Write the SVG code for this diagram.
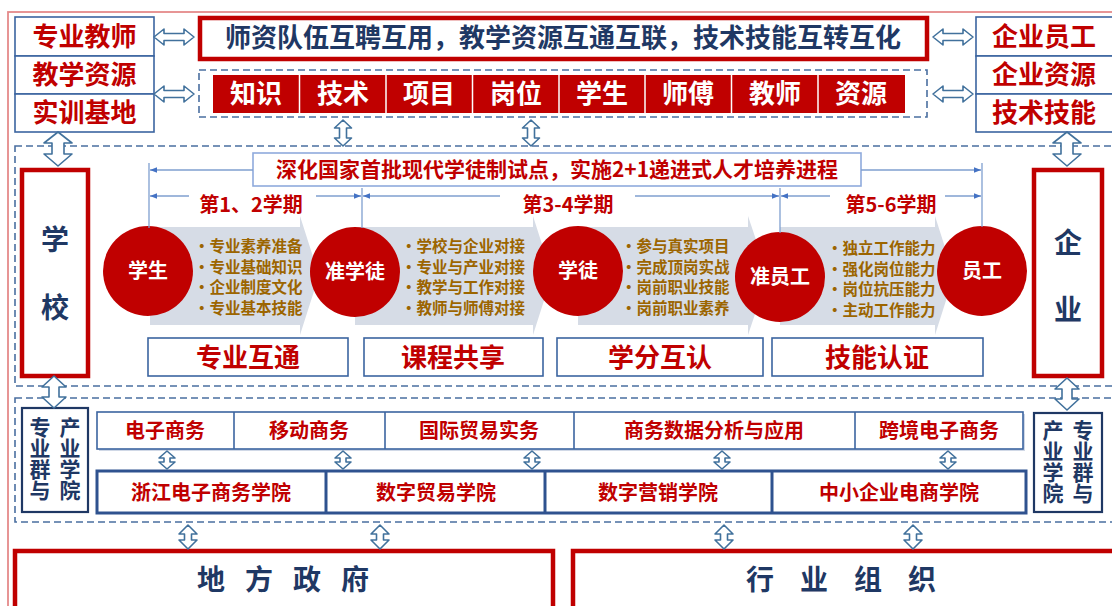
<svg xmlns="http://www.w3.org/2000/svg" width="1112" height="606" viewBox="0 0 1112 606">
<defs>
<style>
text{font-family:"Noto Sans CJK SC","Noto Sans",sans-serif;font-weight:bold}
.red{fill:#c00000}
.navy{fill:#1f3864}
.gold{fill:#9c6500;font-size:15.5px}
.wt{fill:#fff}
.bx{fill:#fff;stroke:#3b64a0;stroke-width:1.6}
.rbx{fill:#fff;stroke:#c00000;stroke-width:4.5}
.dash{fill:none;stroke:#4a6fa0;stroke-width:1.6;stroke-dasharray:7 4}
.arr{fill:#fff;stroke:#41719c;stroke-width:1.6;stroke-linejoin:round}
.chev{fill:#d6dce6}
.dim{stroke:#7f9fcf;stroke-width:1.3;fill:none}
.cir{fill:#c00000}
.t26{font-size:26px}
.t20{font-size:20px}
.vt{font-size:21px;writing-mode:vertical-rl;fill:#1f3864}
</style>
<marker id="ah" viewBox="0 0 10 10" refX="10" refY="5" markerWidth="7" markerHeight="7" orient="auto-start-reverse" markerUnits="userSpaceOnUse">
<path d="M0,1 L10,5 L0,9 z" fill="#4472c4"/>
</marker>
</defs>
<rect width="1112" height="606" fill="#fff"/>
<rect x="8" y="12" width="1115" height="610" fill="none" stroke="#e58a8a" stroke-width="1.8"/>

<!-- dashed regions -->
<rect class="dash" x="199" y="70" width="728" height="47"/>
<rect class="dash" x="15" y="146" width="1105" height="240"/>
<rect class="dash" x="15" y="398" width="1105" height="124"/>

<g id="school-resources">
<rect class="bx" x="15" y="17" width="139" height="39"/>
<rect class="bx" x="15" y="56" width="139" height="38"/>
<rect class="bx" x="15" y="94" width="139" height="38"/>
<text class="red t26" x="84.5" y="46" text-anchor="middle">专业教师</text>
<text class="red t26" x="84.5" y="84" text-anchor="middle">教学资源</text>
<text class="red t26" x="84.5" y="122" text-anchor="middle">实训基地</text>
</g>

<g id="enterprise-resources">
<rect class="bx" x="976" y="17" width="140" height="39"/>
<rect class="bx" x="976" y="56" width="140" height="38"/>
<rect class="bx" x="976" y="94" width="140" height="38"/>
<text class="red t26" x="1044" y="46" text-anchor="middle">企业员工</text>
<text class="red t26" x="1044" y="84" text-anchor="middle">企业资源</text>
<text class="red t26" x="1044" y="122" text-anchor="middle">技术技能</text>
</g>

<g id="top-banner">
<rect class="rbx" x="200" y="18" width="727" height="41"/>
<text class="navy t26" x="563" y="47" text-anchor="middle">师资队伍互聘互用，教学资源互通互联，技术技能互转互化</text>
</g>

<g id="elements">
<rect x="213" y="75" width="692" height="38" fill="#c00000"/>
<g stroke="#fff" stroke-width="1.5">
<line x1="299.5" y1="75" x2="299.5" y2="113"/>
<line x1="386" y1="75" x2="386" y2="113"/>
<line x1="472.5" y1="75" x2="472.5" y2="113"/>
<line x1="559" y1="75" x2="559" y2="113"/>
<line x1="645" y1="75" x2="645" y2="113"/>
<line x1="731.5" y1="75" x2="731.5" y2="113"/>
<line x1="818" y1="75" x2="818" y2="113"/>
</g>
<g class="wt t26" text-anchor="middle">
<text x="256" y="103">知识</text>
<text x="343" y="103">技术</text>
<text x="429" y="103">项目</text>
<text x="516" y="103">岗位</text>
<text x="602" y="103">学生</text>
<text x="688" y="103">师傅</text>
<text x="775" y="103">教师</text>
<text x="861" y="103">资源</text>
</g>
</g>

<g id="school">
<rect x="22" y="170" width="66" height="206" fill="#fff" stroke="#c00000" stroke-width="4.5"/>
<text class="navy" font-size="28" x="55" y="250" text-anchor="middle">学</text>
<text class="navy" font-size="28" x="55" y="318" text-anchor="middle">校</text>
</g>

<g id="enterprise">
<rect x="1034" y="170" width="68" height="206" fill="#fff" stroke="#c00000" stroke-width="4.5"/>
<text class="navy" font-size="28" x="1068" y="253" text-anchor="middle">企</text>
<text class="navy" font-size="28" x="1068" y="320" text-anchor="middle">业</text>
</g>

<g id="header">
<rect x="253" y="153" width="608" height="33" fill="#fff" stroke="#8faadc" stroke-width="1.6"/>
<text class="red" font-size="21" x="557" y="177" text-anchor="middle">深化国家首批现代学徒制试点，实施2+1递进式人才培养进程</text>
</g>

<g id="semesters">
<text class="red t20" x="251" y="212" text-anchor="middle">第1、2学期</text>
<text class="red t20" x="568" y="212" text-anchor="middle">第3-4学期</text>
<text class="red t20" x="891" y="212" text-anchor="middle">第5-6学期</text>
</g>

<g id="progress-arrows">
<polygon class="chev" points="150,227 300,227 300,216 319,275.5 300,335 300,325 150,325"/>
<polygon class="chev" points="355,227 533,227 533,216 552,275.5 533,335 533,325 355,325"/>
<polygon class="chev" points="578,227 748,227 748,216 768,275.5 748,335 748,325 578,325"/>
<polygon class="chev" points="780,227 935,227 935,216 954,275.5 935,335 935,325 780,325"/>
</g>

<g id="stage-student">
<circle class="cir" cx="148" cy="271" r="45"/>
<text class="wt t20" x="148" y="278" text-anchor="middle">学生</text>
</g>
<g id="stage-pre-apprentice">
<circle class="cir" cx="355" cy="272" r="45"/>
<text class="wt t20" x="355" y="279" text-anchor="middle">准学徒</text>
</g>
<g id="stage-apprentice">
<circle class="cir" cx="578" cy="271" r="45"/>
<text class="wt t20" x="578" y="278" text-anchor="middle">学徒</text>
</g>
<g id="stage-pre-employee">
<circle class="cir" cx="780" cy="277" r="45"/>
<text class="wt t20" x="780" y="284" text-anchor="middle">准员工</text>
</g>
<g id="stage-employee">
<circle class="cir" cx="982" cy="271" r="45"/>
<text class="wt t20" x="982" y="278" text-anchor="middle">员工</text>
</g>

<g id="list1" class="gold">
<text x="194" y="252">•专业素养准备</text>
<text x="194" y="273">•专业基础知识</text>
<text x="194" y="293">•企业制度文化</text>
<text x="194" y="314">•专业基本技能</text>
</g>
<g id="list2" class="gold">
<text x="401" y="252">•学校与企业对接</text>
<text x="401" y="273">•专业与产业对接</text>
<text x="401" y="293">•教学与工作对接</text>
<text x="401" y="314">•教师与师傅对接</text>
</g>
<g id="list3" class="gold">
<text x="621" y="252">•参与真实项目</text>
<text x="621" y="273">•完成顶岗实战</text>
<text x="621" y="293">•岗前职业技能</text>
<text x="621" y="314">•岗前职业素养</text>
</g>
<g id="list4" class="gold">
<text x="827" y="254">•独立工作能力</text>
<text x="827" y="275">•强化岗位能力</text>
<text x="827" y="295">•岗位抗压能力</text>
<text x="827" y="316">•主动工作能力</text>
</g>

<g id="mutual">
<rect class="bx" x="148" y="338" width="200" height="38"/>
<rect class="bx" x="364" y="338" width="179" height="38"/>
<rect class="bx" x="557" y="338" width="206" height="38"/>
<rect class="bx" x="772" y="338" width="211" height="38"/>
<g class="red t26" text-anchor="middle">
<text x="248" y="367">专业互通</text>
<text x="453" y="367">课程共享</text>
<text x="660" y="367">学分互认</text>
<text x="877" y="367">技能认证</text>
</g>
</g>

<g id="majors">
<rect x="99" y="414" width="926" height="37" fill="#d0d8e6"/>
<rect class="bx" x="97" y="412" width="926" height="37"/>
<g stroke="#3b64a0" stroke-width="1.6">
<line x1="234" y1="412" x2="234" y2="449"/>
<line x1="385" y1="412" x2="385" y2="449"/>
<line x1="574" y1="412" x2="574" y2="449"/>
<line x1="855" y1="412" x2="855" y2="449"/>
</g>
<g class="red t20" text-anchor="middle">
<text x="165" y="438">电子商务</text>
<text x="309" y="438">移动商务</text>
<text x="479" y="438">国际贸易实务</text>
<text x="714" y="438">商务数据分析与应用</text>
<text x="939" y="438">跨境电子商务</text>
</g>
</g>

<g id="colleges">
<rect x="97" y="471" width="929" height="42" fill="#fff" stroke="#2f528f" stroke-width="3"/>
<g stroke="#2f528f" stroke-width="3">
<line x1="326" y1="471" x2="326" y2="513"/>
<line x1="545" y1="471" x2="545" y2="513"/>
<line x1="772" y1="471" x2="772" y2="513"/>
</g>
<g class="red t20" text-anchor="middle">
<text x="211" y="500">浙江电子商务学院</text>
<text x="436" y="500">数字贸易学院</text>
<text x="658" y="500">数字营销学院</text>
<text x="899" y="500">中小企业电商学院</text>
</g>
</g>

<g id="cluster-left">
<rect x="22" y="408" width="66" height="104" fill="#fff" stroke="#1f3864" stroke-width="2.2"/>
<text class="vt" x="70" y="417">产业学院</text>
<text class="vt" x="40" y="417">专业群与</text>
</g>

<g id="cluster-right">
<rect x="1034" y="413" width="68" height="99" fill="#fff" stroke="#1f3864" stroke-width="2.2"/>
<text class="vt" x="1083" y="420">专业群与</text>
<text class="vt" x="1053" y="420">产业学院</text>
</g>

<g id="government">
<rect x="15" y="551" width="538" height="60" fill="#fff" stroke="#c00000" stroke-width="4.5"/>
<text class="navy" font-size="28" x="197" y="590" letter-spacing="20">地方政府</text>
</g>

<g id="industry">
<rect x="573" y="551" width="545" height="60" fill="#fff" stroke="#c00000" stroke-width="4.5"/>
<text class="navy" font-size="28" x="746" y="590" letter-spacing="26">行业组织</text>
</g>

<g id="connectors">
<polygon class="arr" points="154,37 164,29 164,33.5 184,33.5 184,29 194,37 184,45 184,40.5 164,40.5 164,45"/>
<polygon class="arr" points="154,94 164,86 164,90.5 184,90.5 184,86 194,94 184,102 184,97.5 164,97.5 164,102"/>
<polygon class="arr" points="933,37 943,29 943,33.5 963,33.5 963,29 973,37 963,45 963,40.5 943,40.5 943,45"/>
<polygon class="arr" points="933,94 943,86 943,90.5 963,90.5 963,86 973,94 963,102 963,97.5 943,97.5 943,102"/>
<polygon class="arr" points="343,120 351.5,128 346.5,128 346.5,138 351.5,138 343,146 334.5,138 339.5,138 339.5,128 334.5,128"/>
<polygon class="arr" points="531,120 539.5,128 534.5,128 534.5,138 539.5,138 531,146 522.5,138 527.5,138 527.5,128 522.5,128"/>
<polygon class="arr" points="58,132 72,143 64,143 64,154 72,154 58,166 44,154 52,154 52,143 44,143"/>
<polygon class="arr" points="1067,132 1081,143 1073,143 1073,154 1081,154 1067,166 1053,154 1061,154 1061,143 1053,143"/>
<polygon class="arr" points="54,376 66,387 59,387 59,397 66,397 54,408 42,397 49,397 49,387 42,387"/>
<polygon class="arr" points="1067,378 1079,389 1072,389 1072,399 1079,399 1067,410 1055,399 1062,399 1062,389 1055,389"/>
<polygon class="arr" points="167,451 175,458 170,458 170,462 175,462 167,469 159,462 164,462 164,458 159,458"/>
<polygon class="arr" points="343,451 351,458 346,458 346,462 351,462 343,469 335,462 340,462 340,458 335,458"/>
<polygon class="arr" points="532,451 540,458 535,458 535,462 540,462 532,469 524,462 529,462 529,458 524,458"/>
<polygon class="arr" points="722,451 730,458 725,458 725,462 730,462 722,469 714,462 719,462 719,458 714,458"/>
<polygon class="arr" points="948,451 956,458 951,458 951,462 956,462 948,469 940,462 945,462 945,458 940,458"/>
<polygon class="arr" points="188,525 197,534 191.5,534 191.5,540 197,540 188,549 179,540 184.5,540 184.5,534 179,534"/>
<polygon class="arr" points="380,525 389,534 383.5,534 383.5,540 389,540 380,549 371,540 376.5,540 376.5,534 371,534"/>
<polygon class="arr" points="724,525 733,534 727.5,534 727.5,540 733,540 724,549 715,540 720.5,540 720.5,534 715,534"/>
<polygon class="arr" points="913,525 922,534 916.5,534 916.5,540 922,540 913,549 904,540 909.5,540 909.5,534 904,534"/>
<g class="dim">
<line x1="149" y1="163" x2="149" y2="228"/>
<line x1="362" y1="188" x2="362" y2="228"/>
<line x1="780" y1="188" x2="780" y2="233"/>
<line x1="982" y1="163" x2="982" y2="227"/>
<line x1="253" y1="170" x2="150" y2="170" marker-end="url(#ah)"/>
<line x1="861" y1="170" x2="981" y2="170" marker-end="url(#ah)"/>
<line x1="189" y1="196" x2="150" y2="196" marker-end="url(#ah)"/>
<line x1="316" y1="196" x2="361" y2="196" marker-end="url(#ah)"/>
<line x1="500" y1="196" x2="363" y2="196" marker-end="url(#ah)"/>
<line x1="635" y1="196" x2="779" y2="196" marker-end="url(#ah)"/>
<line x1="830" y1="196" x2="781" y2="196" marker-end="url(#ah)"/>
<line x1="945" y1="196" x2="981" y2="196" marker-end="url(#ah)"/>
</g>
</g>
</svg>
